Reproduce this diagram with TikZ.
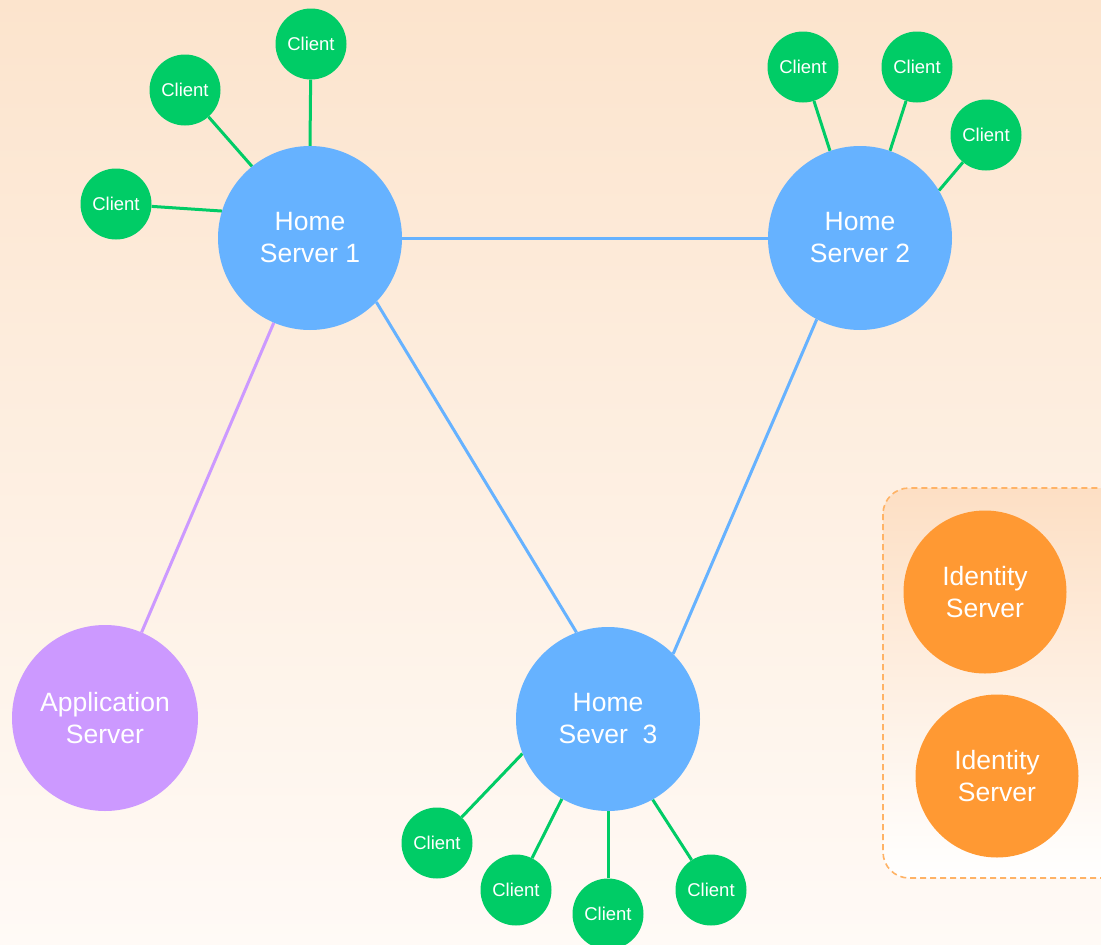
\documentclass[tikz,border=0pt]{standalone}
\usepackage{fontspec}
\setmainfont{Liberation Sans}
\pgfdeclarelayer{bg}
\pgfdeclarelayer{edges}
\pgfsetlayers{bg,edges,main}
\definecolor{cgreen}{HTML}{00CC66}
\definecolor{cblue}{HTML}{66B2FF}
\definecolor{cpurple}{HTML}{CC99FF}
\definecolor{corange}{HTML}{FF9933}
\definecolor{bgtop}{HTML}{FCE4CD}
\definecolor{bgbot}{HTML}{FFFAF6}
\definecolor{boxline}{HTML}{FFB366}
\definecolor{boxtop}{HTML}{FDDFC4}
\begin{document}
\begin{tikzpicture}[x=1pt,y=-1pt,
  bigtext/.style={text=white,align=center,inner sep=0pt,font=\fontsize{26.5}{32}\selectfont},
  srv/.style={circle,fill=cblue,minimum size=184pt,bigtext},
  appsrv/.style={circle,fill=cpurple,minimum size=186pt,bigtext},
  idsrv/.style={circle,fill=corange,minimum size=163pt,bigtext},
  client/.style={circle,fill=cgreen,text=white,minimum size=71pt,inner sep=0pt,font=\fontsize{18.5}{20}\selectfont},
  glink/.style={draw=cgreen,line width=3pt},
  blink/.style={draw=cblue,line width=3pt},
  plink/.style={draw=cpurple,line width=3pt},
  idbox/.style={draw=boxline,line width=1.6pt,dash pattern=on 6pt off 4pt,rounded corners=26pt,top color=boxtop,bottom color=white}
]
\useasboundingbox (0,0) rectangle (1101,945);
\clip (0,0) rectangle (1101,945);
\begin{pgfonlayer}{bg}
  \shade[top color=bgtop,bottom color=bgbot] (0,0) rectangle (1101,945);
  \path[idbox] (883,488) rectangle (1130,878);
\end{pgfonlayer}

% servers
\node[srv] (hs1) at (310,238) {Home\\Server 1};
\node[srv] (hs2) at (860,238) {Home\\Server 2};
\node[srv] (hs3) at (608,719) {Home\\Sever~~3};
\node[appsrv] (app) at (105,718) {Application\\Server};
\node[idsrv] (id1) at (985,592) {Identity\\Server};
\node[idsrv] (id2) at (997,776) {Identity\\Server};

% clients of home server 1
\node[client] (c11) at (311,44) {Client};
\node[client] (c12) at (185,90) {Client};
\node[client] (c13) at (116,204) {Client};
% clients of home server 2
\node[client] (c21) at (803,67) {Client};
\node[client] (c22) at (917,67) {Client};
\node[client] (c23) at (986,135) {Client};
% clients of home server 3
\node[client] (c31) at (437,843) {Client};
\node[client] (c32) at (516,890) {Client};
\node[client] (c33) at (608,914) {Client};
\node[client] (c34) at (711,890) {Client};

\begin{pgfonlayer}{edges}
  \draw[glink] (c11) -- (hs1.90);
  \draw[glink] (c12) -- (hs1.129);
  \draw[glink] (c13) -- (hs1.163);
  \draw[glink] (c21) -- (hs2.109);
  \draw[glink] (c22) -- (hs2.71);
  \draw[glink] (c23) -- (hs2.31);
  \draw[glink] (c31) -- (hs3.202);
  \draw[glink] (c32) -- (hs3.240);
  \draw[glink] (c33) -- (hs3.270);
  \draw[glink] (c34) -- (hs3.299);
  \draw[blink] (hs1) -- (hs2);
  \draw[blink] (hs1.316) -- (hs3.110);
  \draw[blink] (hs2.242) -- (hs3.45);
  \draw[plink] (hs1) -- (app);
\end{pgfonlayer}
\end{tikzpicture}
\end{document}
